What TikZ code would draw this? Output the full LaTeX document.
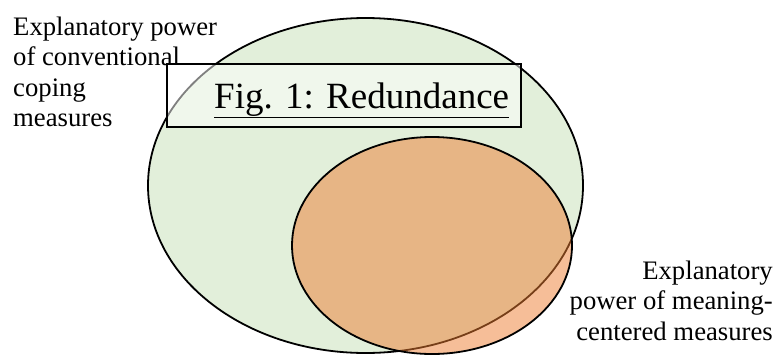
\documentclass[tikz,border=0pt]{standalone}
\usepackage{fontspec}
\setmainfont{Liberation Serif}
\usepackage{xcolor}
\usepackage{tikz}

\definecolor{convgreen}{HTML}{E2EFDA}
\definecolor{meanorange}{HTML}{ED7D31}

\tikzset{
	venn/.style={line width=1.8pt},
	labeltext/.style={font=\fontsize{26.7}{30.5}\selectfont, inner sep=0pt},
}

\begin{document}
\begin{tikzpicture}[x=1pt,y=-1pt]
	\useasboundingbox (0,0) rectangle (778,356);
	
	% conventional measures
	\filldraw[venn, fill=convgreen] (365.5,185.5) ellipse (217.5pt and 167.5pt);
	% meaning-centered measures
	\filldraw[venn, fill=meanorange, fill opacity=0.5] (432,245.5) ellipse (140pt and 108.5pt);
	% title box
	\filldraw[venn, fill=white, fill opacity=0.5] (167,64) rectangle (521,127);
	\node[anchor=base west, inner sep=0pt, font=\fontsize{37}{40}\selectfont] (title) at (214,108) {\underline{Fig. 1: Redundance}};
	
	% base anchor sits on the last line
	\node[labeltext, anchor=base west, align=left] (conv) at (13,126.5) {Explanatory power\\of conventional\\coping\\measures};
	\node[labeltext, anchor=base east, align=right] (mean) at (773,340) {Explanatory\\power of meaning-\\centered measures};
\end{tikzpicture}
\end{document}
